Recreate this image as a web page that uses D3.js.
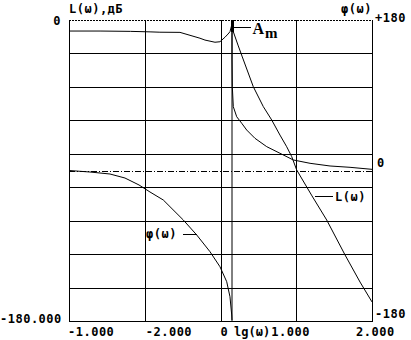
<!DOCTYPE html>
<html><head><meta charset="utf-8">
<script src="https://cdn.jsdelivr.net/npm/d3@7"></script>
<style>
html,body{margin:0;padding:0;background:#fff;}
text{font-family:"DejaVu Sans Mono",monospace;font-weight:bold;font-size:12px;letter-spacing:0.5px;fill:#000;}
</style></head>
<body>
<script>
// lg(w) values and L(w) in dB
const lgL = [-2.0,-1.59,-1.19,-0.93,-0.80,-0.535,-0.271,-0.205,-0.073,-0.007,0.059,0.099,0.125,0.145,0.156,0.169,0.231,0.288,0.433,0.565,0.676,0.785,0.874,0.940,1.006,1.208,1.402,1.644,1.842,2.0];
const valL = [-6.6,-6.6,-6.8,-7.1,-7.3,-7.4,-10.9,-12.0,-13.3,-13.0,-10.3,-8.4,-7.0,-3.6,0,-7.0,-15.0,-22.1,-39.9,-51.8,-59.8,-68.8,-75.8,-81.7,-89.7,-105.2,-119.6,-140.5,-156.7,-168.6];
// lg(w) values and phase in degrees
const lgPhi = [-2.0,-1.723,-1.459,-1.261,-1.076,-0.931,-0.755,-0.491,-0.314,-0.139,-0.007,0.082,0.125,0.148,0.152,0.152,0.152,0.156,0.169,0.214,0.280,0.346,0.455,0.610,0.785,0.961,1.182,1.446,1.710,2.0];
const valPhi = [0,-1.8,-4.2,-9.0,-17.3,-25.7,-35.3,-59.2,-77.1,-97.1,-115.1,-133.0,-151.0,-172.8,-179.5,180,132.2,100.2,76.3,64.3,56.5,48.4,38.5,28.5,20.6,12.6,8.6,5.4,3.8,1.4];
const gridL = [-20,-40,-60,-80,-100,-120,-140,-160];
const gridLg = [-1,0,1];
const bottomLabels = ["-1.000","-2.000","0","1.000","2.000"];
const amLg = 0.152, amTop = 0, amBottom = -7, amPointer = -4;

const W = 411, H = 340;
const svg = d3.select("body").append("svg").attr("width",W).attr("height",H)
  .style("background","#fff");
const x = d3.scaleLinear().domain([-2,2]).range([69,372]);
const yL = d3.scaleLinear().domain([0,-180]).range([20,321]);
const yP = d3.scaleLinear().domain([180,-180]).range([20,321]);

const g = svg.append("g").attr("shape-rendering","crispEdges");
// horizontal grid
g.selectAll(".hg").data(gridL).enter().append("line")
  .attr("x1",x(-2)).attr("x2",x(2))
  .attr("y1",d=>Math.round(yL(d))+0.5).attr("y2",d=>Math.round(yL(d))+0.5)
  .attr("stroke","#000");
// vertical grid
g.selectAll(".vg").data(gridLg).enter().append("line")
  .attr("x1",d=>Math.round(x(d))+0.5).attr("x2",d=>Math.round(x(d))+0.5)
  .attr("y1",yL(0)).attr("y2",yL(-180))
  .attr("stroke","#000");
// borders
g.append("line").attr("x1",x(-2)+0.5).attr("x2",x(-2)+0.5).attr("y1",yL(0)).attr("y2",yL(-180)+0.5).attr("stroke","#000");
g.append("line").attr("x1",x(2)+0.5).attr("x2",x(2)+0.5).attr("y1",yL(0)).attr("y2",yL(-180)+0.5).attr("stroke","#000");
g.append("line").attr("x1",x(-2)).attr("x2",x(2)+1).attr("y1",yL(-180)+0.5).attr("y2",yL(-180)+0.5).attr("stroke","#000");
g.append("line").attr("x1",x(-2)).attr("x2",x(2)+1).attr("y1",yL(0)+0.5).attr("y2",yL(0)+0.5)
  .attr("stroke","#000").attr("stroke-dasharray","2,1");
// phase zero dash-dot
g.append("line").attr("x1",x(-2)).attr("x2",x(2)).attr("y1",Math.round(yP(0))+0.5).attr("y2",Math.round(yP(0))+0.5)
  .attr("stroke","#000").attr("stroke-dasharray","6,2,1,2");

// curves
const lineL = d3.line().x((d,i)=>x(lgL[i])).y(d=>yL(d));
svg.append("path").attr("d",lineL(valL)).attr("fill","none").attr("stroke","#000").attr("stroke-width",1);
const lineP = d3.line().x((d,i)=>x(lgPhi[i])).y(d=>yP(d));
svg.append("path").attr("d",lineP(valPhi)).attr("fill","none").attr("stroke","#000").attr("stroke-width",1);

// Am marker
g.append("rect").attr("x",x(amLg)-1.5).attr("y",yL(amTop)).attr("width",3).attr("height",yL(amBottom)-yL(amTop)).attr("fill","#000");
g.append("line").attr("x1",x(amLg)+2).attr("x2",x(amLg)+19).attr("y1",Math.round(yL(amPointer))+0.5).attr("y2",Math.round(yL(amPointer))+0.5).attr("stroke","#000");
svg.append("text").attr("x",x(amLg)+20.5).attr("y",34).style("font-family","'Liberation Serif',serif").style("font-size","16px").style("letter-spacing","0").text("A");
svg.append("text").attr("x",x(amLg)+33).attr("y",37.5).style("font-family","'Liberation Serif',serif").style("font-size","15px").style("letter-spacing","0").text("m");

// curve labels
g.append("line").attr("x1",315).attr("x2",333).attr("y1",196.5).attr("y2",196.5).attr("stroke","#000");
svg.append("text").attr("x",335).attr("y",201).text("L(ω)");
g.append("line").attr("x1",183).attr("x2",197).attr("y1",234.5).attr("y2",234.5).attr("stroke","#000");
svg.append("text").attr("x",146).attr("y",238).text("φ(ω)");

// axis texts
svg.append("text").attr("x",69).attr("y",13).text("L(ω),дБ");
svg.append("text").attr("x",61).attr("y",25).attr("text-anchor","end").text("0");
svg.append("text").attr("x",372).attr("y",13).attr("text-anchor","end").text("φ(ω)");
svg.append("text").attr("x",375).attr("y",22).text("+180");
svg.append("text").attr("x",377).attr("y",167).text("0");
svg.append("text").attr("x",375).attr("y",318).text("-180");
svg.append("text").attr("x",0).attr("y",323).text("-180.000");
// bottom labels
const bx = [x(-2)-1, x(-1)+1, x(0), x(1)-25, x(2)-16];
svg.selectAll(".bl").data(bottomLabels).enter().append("text")
  .attr("x",(d,i)=>bx[i]).attr("y",336).text(d=>d);
svg.append("text").attr("x",234).attr("y",336).style("letter-spacing","0").text("lg(ω)");
</script>
</body></html>
